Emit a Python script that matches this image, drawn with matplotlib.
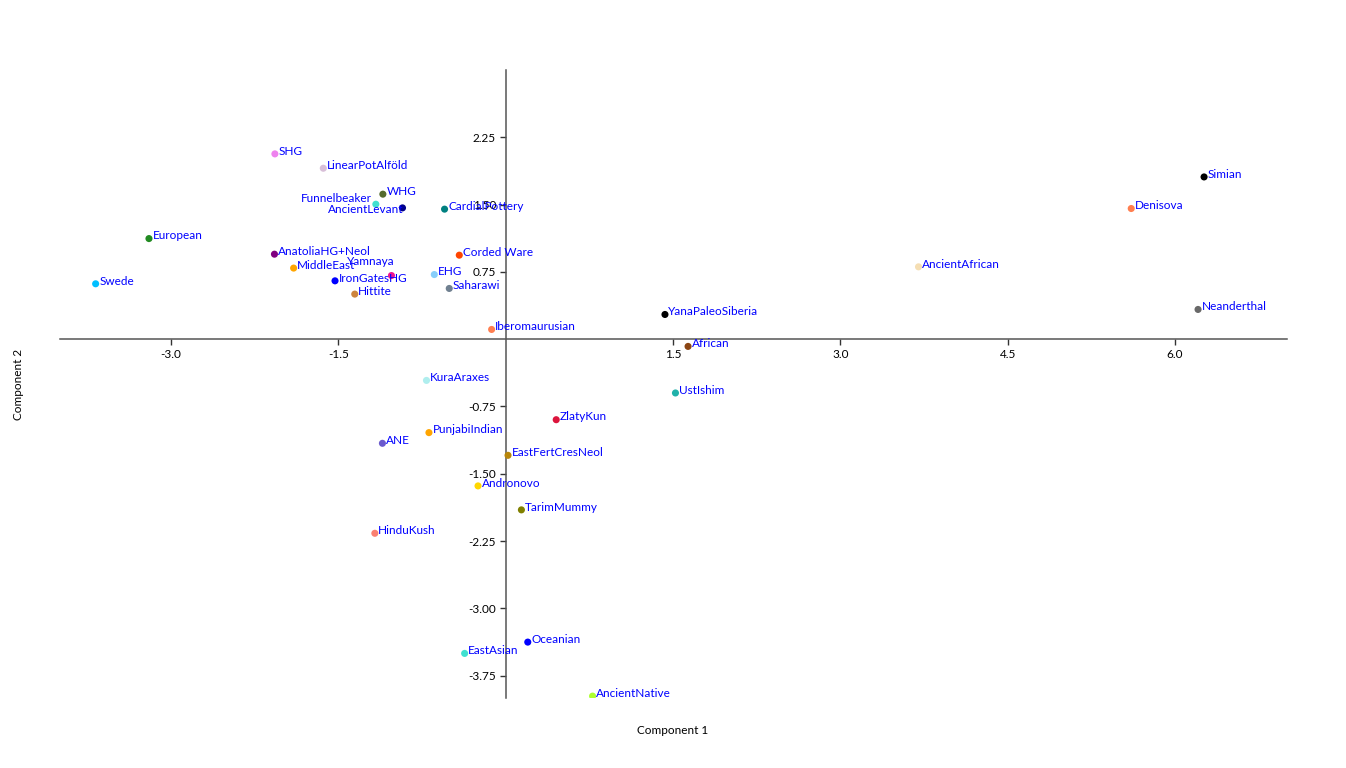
import matplotlib
matplotlib.use("Agg")
import matplotlib.pyplot as plt
from matplotlib.ticker import FixedLocator, FormatStrFormatter

plt.rcParams['font.family'] = ['Lato', 'DejaVu Sans']

# PCA coordinates
names = ['SHG', 'LinearPotAlföld', 'WHG', 'Funnelbeaker', 'AncientLevant', 'CardialPottery',
         'European', 'AnatoliaHG+Neol', 'MiddleEast', 'Yamnaya', 'IronGatesHG', 'Hittite',
         'EHG', 'Corded Ware', 'Saharawi', 'Swede', 'Iberomaurusian', 'KuraAraxes',
         'UstIshim', 'ZlatyKun', 'PunjabiIndian', 'ANE', 'EastFertCresNeol', 'Andronovo',
         'TarimMummy', 'HinduKush', 'Oceanian', 'EastAsian', 'AncientNative',
         'AncientAfrican', 'YanaPaleoSiberia', 'African', 'Simian', 'Denisova', 'Neanderthal']
comp1 = [-2.069, -1.635, -1.101, -1.164, -0.925, -0.548,
         -3.198, -2.073, -1.901, -1.024, -1.530, -1.353,
         -0.640, -0.416, -0.506, -3.676, -0.126, -0.710,
         1.522, 0.453, -0.688, -1.105, 0.021, -0.248,
         0.141, -1.173, 0.198, -0.368, 0.779,
         3.701, 1.428, 1.635, 6.261, 5.608, 6.207]
comp2 = [2.065, 1.905, 1.616, 1.504, 1.463, 1.449,
         1.121, 0.947, 0.792, 0.709, 0.650, 0.502,
         0.720, 0.936, 0.565, 0.617, 0.108, -0.460,
         -0.600, -0.898, -1.042, -1.161, -1.295, -1.636,
         -1.903, -2.164, -3.377, -3.503, -3.979,
         0.806, 0.275, -0.081, 1.808, 1.456, 0.331]
colors = ['violet', 'thistle', 'darkolivegreen', 'turquoise', 'darkblue', 'teal',
          'forestgreen', 'purple', 'orange', '#EE1493', 'blue', 'peru',
          'lightskyblue', 'orangered', 'slategray', 'deepskyblue', 'coral', 'paleturquoise',
          'lightseagreen', 'crimson', 'orange', 'slateblue', 'darkgoldenrod', 'gold',
          'olive', 'salmon', 'blue', 'turquoise', 'greenyellow',
          'wheat', 'black', 'saddlebrown', 'black', 'coral', 'dimgray']

xticks = [-3.0, -1.5, 1.5, 3.0, 4.5, 6.0]
yticks = [2.25, 1.50, 0.75, -0.75, -1.50, -2.25, -3.00, -3.75]

# labels placed left of their dot (offset in points)
left_labels = {'Funnelbeaker': (-3, 4), 'AncientLevant': (1, -1), 'Yamnaya': (2, 10)}

fig = plt.figure(figsize=(13.46, 7.68), dpi=100)
ax = fig.add_axes([59.5/1346, 1 - 698/768, 1227/1346, 628/768])

ax.scatter(comp1, comp2, c=colors, s=26, linewidths=0, zorder=3)

for n, x, y in zip(names, comp1, comp2):
    if n in left_labels:
        dx, dy = left_labels[n]
        ha = 'right'
    else:
        dx, dy = 2.5, 2
        ha = 'left'
    ax.annotate(n, (x, y), xytext=(dx, dy), textcoords='offset points',
                ha=ha, va='center', color='blue', fontsize=8.5, zorder=4)

ax.set_xlim(-4.0, 7.0)
ax.set_ylim(-4.0, 3.0)

ax.spines['left'].set_position(('data', 0))
ax.spines['bottom'].set_position(('data', 0))
ax.spines['top'].set_visible(False)
ax.spines['right'].set_visible(False)
for s in ['left', 'bottom']:
    ax.spines[s].set_color('#555555')
    ax.spines[s].set_linewidth(1.1)

ax.xaxis.set_major_locator(FixedLocator(xticks))
ax.yaxis.set_major_locator(FixedLocator(yticks))
ax.xaxis.set_major_formatter(FormatStrFormatter('%.1f'))
ax.yaxis.set_major_formatter(FormatStrFormatter('%.2f'))
ax.tick_params(axis='both', direction='out', length=4, width=1, color='#333333',
               labelsize=8.5, labelcolor='black', pad=3)

fig.text(672.5/1346, 1 - 731/768, 'Component 1', ha='center', va='center', fontsize=8.5)
fig.text(18/1346, 1 - 384/768, 'Component 2', ha='center', va='center', fontsize=8.5,
         rotation=90)

fig.savefig('out.png', dpi=100)
